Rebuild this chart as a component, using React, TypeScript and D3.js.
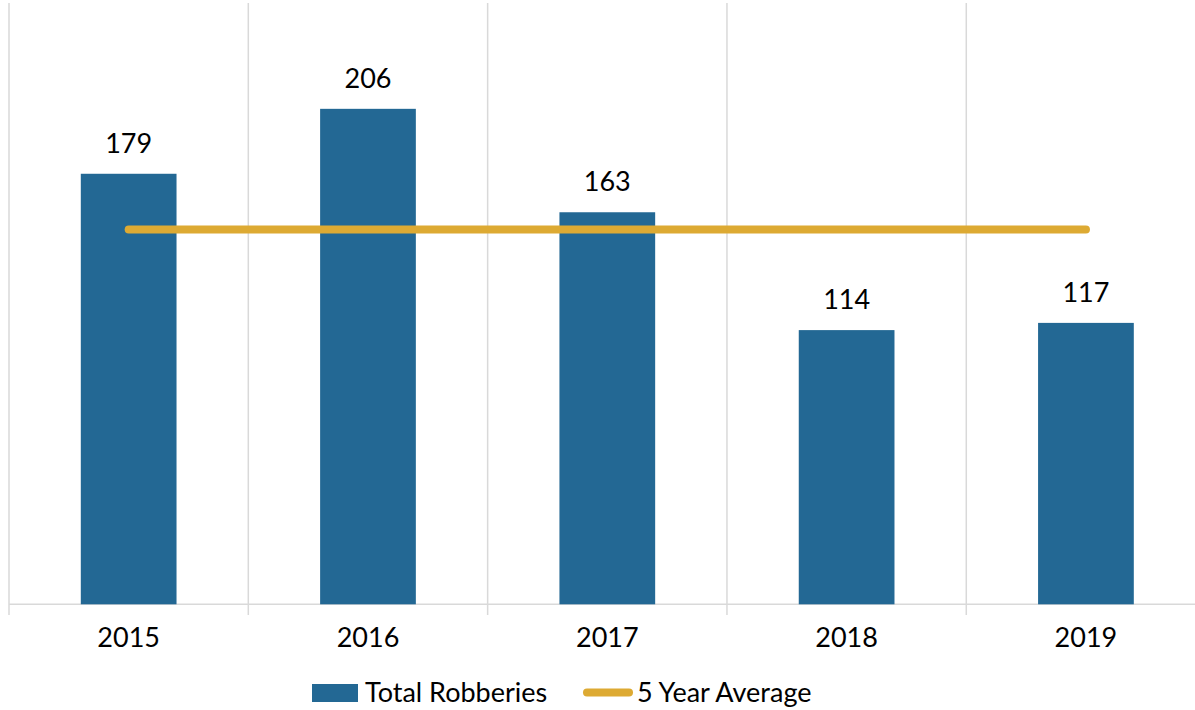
import React from "react";
import * as d3 from "d3";

const years = ["2015", "2016", "2017", "2018", "2019"];
const totalRobberies = [179, 206, 163, 114, 117];
const fiveYearAverage = [155.8, 155.8, 155.8, 155.8, 155.8];
const seriesNames = ["Total Robberies", "5 Year Average"];

const W = 1195;
const H = 710;
const BAR = "#236894";
const LINE = "#DDAA33";
const GRID = "#D9D9D9";
const FONT = "Lato, 'Open Sans', sans-serif";

export default function App() {
  const x = d3
    .scaleBand<string>()
    .domain(years)
    .range([9, 1205.6])
    .paddingInner(0.6)
    .paddingOuter(0.3);
  const y = d3.scaleLinear().domain([0, 250]).range([604.3, 3]);
  const step = x.step();
  const bounds = d3.range(years.length + 1).map((i) => 9 + i * step);
  const cx = (d: string) => (x(d) as number) + x.bandwidth() / 2;

  const linePath = d3
    .line<number>()
    .x((_, i) => cx(years[i]))
    .y((v) => y(v))(fiveYearAverage) as string;

  return (
    <svg
      width={W}
      height={H}
      style={{ position: "absolute", left: 0, top: 0, background: "#fff" }}
      fontFamily={FONT}
    >
      {bounds.map((b, i) => (
        <line key={"g" + i} x1={b} x2={b} y1={3} y2={615} stroke={GRID} strokeWidth={1.5} />
      ))}
      <line x1={9} x2={W} y1={y(0)} y2={y(0)} stroke={GRID} strokeWidth={1.5} />
      {years.map((yr, i) => (
        <rect
          key={"b" + yr}
          x={x(yr)}
          y={y(totalRobberies[i])}
          width={x.bandwidth()}
          height={y(0) - y(totalRobberies[i])}
          fill={BAR}
        />
      ))}
      <path d={linePath} fill="none" stroke={LINE} strokeWidth={8} strokeLinecap="round" />
      {years.map((yr, i) => (
        <text
          key={"v" + yr}
          x={cx(yr)}
          y={y(totalRobberies[i]) - 21}
          textAnchor="middle"
          fontSize={27}
          fill="#000"
        >
          {totalRobberies[i]}
        </text>
      ))}
      {years.map((yr) => (
        <text key={"t" + yr} x={cx(yr)} y={647} textAnchor="middle" fontSize={27} fill="#000">
          {yr}
        </text>
      ))}
      <rect x={312} y={684} width={46} height={18} fill={BAR} />
      <text x={365} y={702} fontSize={27} fill="#000">
        {seriesNames[0]}
      </text>
      <line x1={587} x2={629} y1={692.5} y2={692.5} stroke={LINE} strokeWidth={8} strokeLinecap="round" />
      <text x={637} y={702} fontSize={27} fill="#000">
        {seriesNames[1]}
      </text>
    </svg>
  );
}
